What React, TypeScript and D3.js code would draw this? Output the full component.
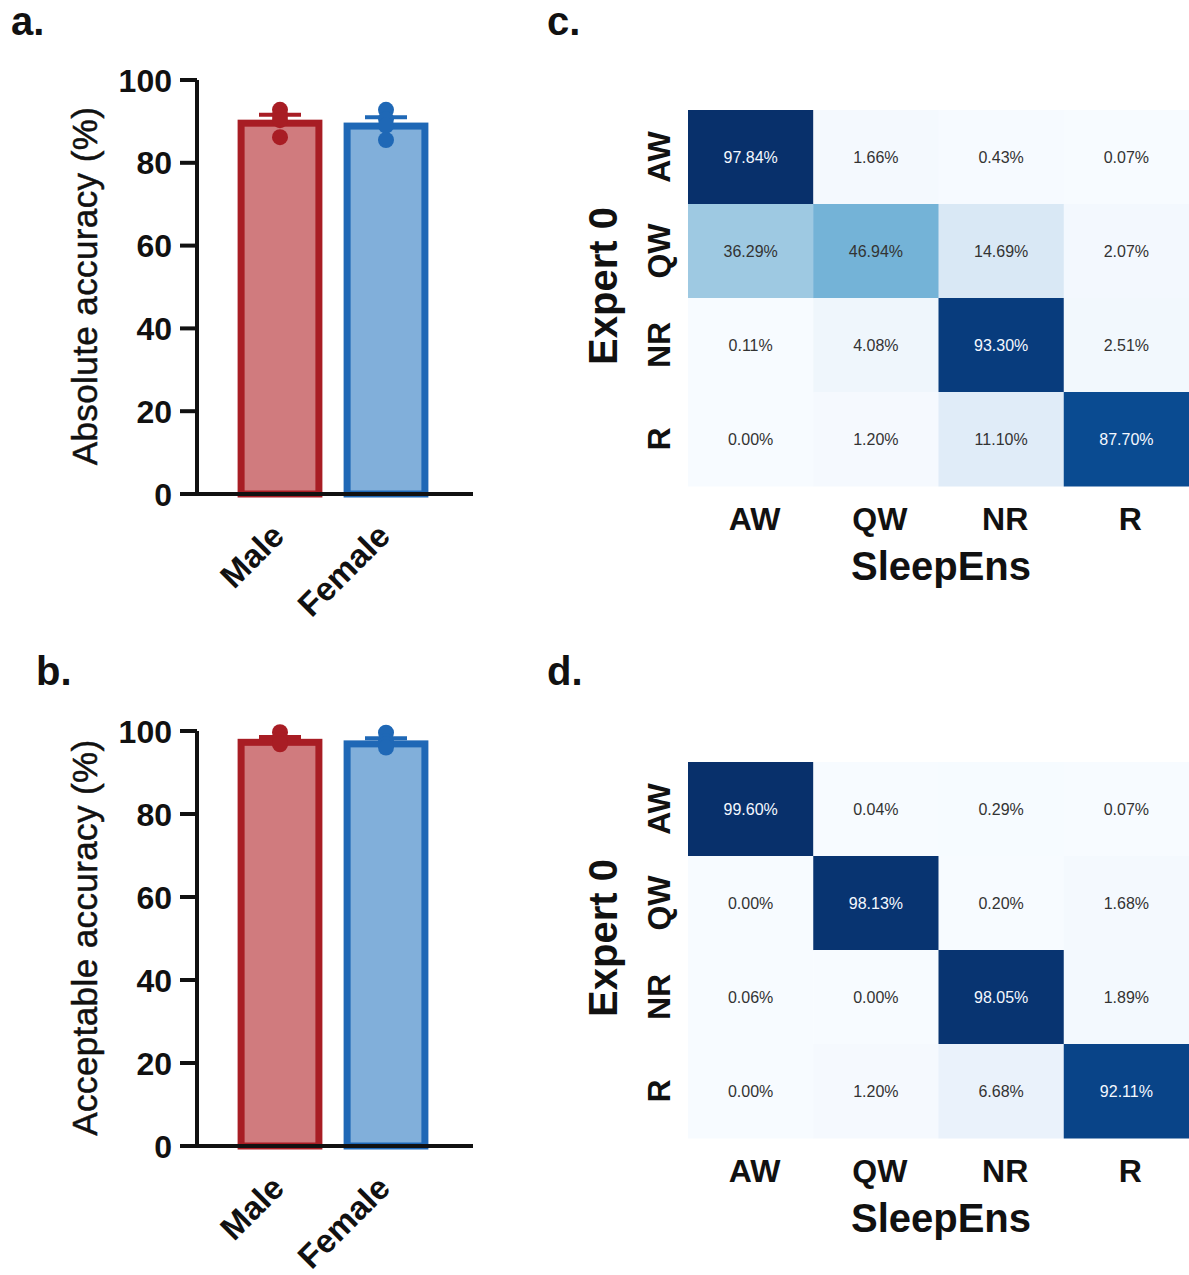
import React from 'react';
import * as d3 from 'd3';

// bar panels (a, b)
const groups = ['Male', 'Female'];
const absMale = [92.8, 91.4, 90.3, 86.2];
const absFemale = [92.8, 90.6, 89.0, 85.5];
const accMale = [99.7, 97.9, 97.1, 96.8];
const accFemale = [99.6, 97.6, 96.8, 96.0];
const yTicks = [0, 20, 40, 60, 80, 100];

// confusion matrices (c, d), rows = Expert 0, cols = SleepEns
const stages = ['AW', 'QW', 'NR', 'R'];
const confC = [
  [97.84, 1.66, 0.43, 0.07],
  [36.29, 46.94, 14.69, 2.07],
  [0.11, 4.08, 93.3, 2.51],
  [0.0, 1.2, 11.1, 87.7],
];
const confD = [
  [99.6, 0.04, 0.29, 0.07],
  [0.0, 98.13, 0.2, 1.68],
  [0.06, 0.0, 98.05, 1.89],
  [0.0, 1.2, 6.68, 92.11],
];

const FONT = 'Liberation Sans, Arial, Helvetica, sans-serif';
const strokeCol = ['#a81d24', '#1f68b6'];
const fillCol = ['#d07b7e', '#81afda'];

function sem(v: number[]) {
  return (d3.deviation(v) || 0) / Math.sqrt(v.length);
}

function BarPanel({ series, y0, y100, title }: { series: number[][]; y0: number; y100: number; title: string }) {
  const axisX = 197;
  const x = d3.scaleBand().domain(groups).range([227, 439]).paddingInner(0.2).paddingOuter(0.1);
  const y = d3.scaleLinear().domain([0, 100]).range([y0, y100]);
  const bw = x.bandwidth();
  const sw = 7;
  return (
    <g fontFamily={FONT}>
      <text
        transform={`translate(97,${(y0 + y100) / 2 - 1}) rotate(-90)`}
        textAnchor="middle"
        fontSize={35}
        letterSpacing={0.4}
        fill="#111"
        stroke="#111"
        strokeWidth={0.5}
      >
        {title}
      </text>
      {groups.map((g, i) => {
        const v = series[i];
        const m = d3.mean(v) as number;
        const e = sem(v);
        const cx = (x(g) as number) + bw / 2;
        return (
          <g key={g}>
            <line x1={cx} x2={cx} y1={y(m)} y2={y(m + e)} stroke={strokeCol[i]} strokeWidth={4} />
            <line x1={cx - 21} x2={cx + 21} y1={y(m + e)} y2={y(m + e)} stroke={strokeCol[i]} strokeWidth={4} />
            <rect
              x={(x(g) as number) + sw / 2}
              y={y(m) + sw / 2 - 1}
              width={bw - sw}
              height={y(0) - y(m) - sw / 2 + 1}
              fill={fillCol[i]}
              stroke={strokeCol[i]}
              strokeWidth={sw}
            />
            {v.map((d, j) => (
              <circle key={j} cx={cx} cy={y(d)} r={8} fill={strokeCol[i]} />
            ))}
            <text
              transform={`translate(${cx + 6},${y0 + 44}) rotate(-45)`}
              textAnchor="end"
              fontSize={33}
              fontWeight="bold"
              fill="#111"
            >
              {g}
            </text>
          </g>
        );
      })}
      <line x1={axisX} x2={axisX} y1={y(100)} y2={y(0)} stroke="#111" strokeWidth={4} />
      <line x1={axisX - 17} x2={473} y1={y(0)} y2={y(0)} stroke="#111" strokeWidth={4} />
      {yTicks.map((t) => (
        <g key={t}>
          <line x1={axisX - 17} x2={axisX} y1={y(t)} y2={y(t)} stroke="#111" strokeWidth={4} />
          <text x={axisX - 25} y={y(t)} dy="0.36em" textAnchor="end" fontSize={32} fontWeight="bold" fill="#111">
            {t}
          </text>
        </g>
      ))}
    </g>
  );
}

function Heatmap({ data, top }: { data: number[][]; top: number }) {
  const x = d3.scaleBand().domain(stages).range([688, 1189]);
  const y = d3.scaleBand().domain(stages).range([top, top + 376]);
  const max = d3.max(data.flat()) as number;
  const color = d3.scaleSequential(d3.interpolateBlues).domain([0, max]);
  return (
    <g fontFamily={FONT}>
      {data.map((row, r) =>
        row.map((v, c) => {
          const fill = color(v);
          const light = d3.lab(fill).l > 55;
          return (
            <g key={`${r}-${c}`}>
              <rect
                x={x(stages[c])}
                y={y(stages[r])}
                width={x.bandwidth() + 0.5}
                height={y.bandwidth() + 0.5}
                fill={fill}
              />
              <text
                x={(x(stages[c]) as number) + x.bandwidth() / 2}
                y={(y(stages[r]) as number) + y.bandwidth() / 2}
                dy="0.36em"
                textAnchor="middle"
                fontSize={16}
                fill={light ? '#333' : '#f4f8ff'}
              >
                {v.toFixed(2)}%
              </text>
            </g>
          );
        })
      )}
      {stages.map((s) => (
        <text
          key={'r' + s}
          transform={`translate(670,${(y(s) as number) + y.bandwidth() / 2}) rotate(-90)`}
          textAnchor="middle"
          fontSize={32}
          fontWeight="bold"
          fill="#111"
        >
          {s}
        </text>
      ))}
      {stages.map((s) => (
        <text
          key={'c' + s}
          x={(x(s) as number) + x.bandwidth() / 2 + 4}
          y={top + 420}
          textAnchor="middle"
          fontSize={32}
          fontWeight="bold"
          fill="#111"
        >
          {s}
        </text>
      ))}
      <text x={941} y={top + 470} textAnchor="middle" fontSize={40} fontWeight="bold" fill="#111">
        SleepEns
      </text>
      <text
        transform={`translate(617,${top + 188 - 12}) rotate(-90)`}
        textAnchor="middle"
        fontSize={40}
        fontWeight="bold"
        fill="#111"
      >
        Expert 0
      </text>
    </g>
  );
}

export default function App() {
  return (
    <svg
      width={1189}
      height={1275}
      style={{ position: 'absolute', left: 0, top: 0, background: '#fff' }}
    >
      <rect width={1189} height={1275} fill="#fff" />
      <g fontFamily={FONT} fontWeight="bold" fontSize={40} fill="#111">
        <text x={11} y={35}>a.</text>
        <text x={36} y={685}>b.</text>
        <text x={547} y={35}>c.</text>
        <text x={547} y={685}>d.</text>
      </g>
      <BarPanel series={[absMale, absFemale]} y0={494} y100={80} title="Absolute accuracy (%)" />
      <BarPanel series={[accMale, accFemale]} y0={1146} y100={731} title="Acceptable accuracy (%)" />
      <Heatmap data={confC} top={110} />
      <Heatmap data={confD} top={762} />
    </svg>
  );
}
